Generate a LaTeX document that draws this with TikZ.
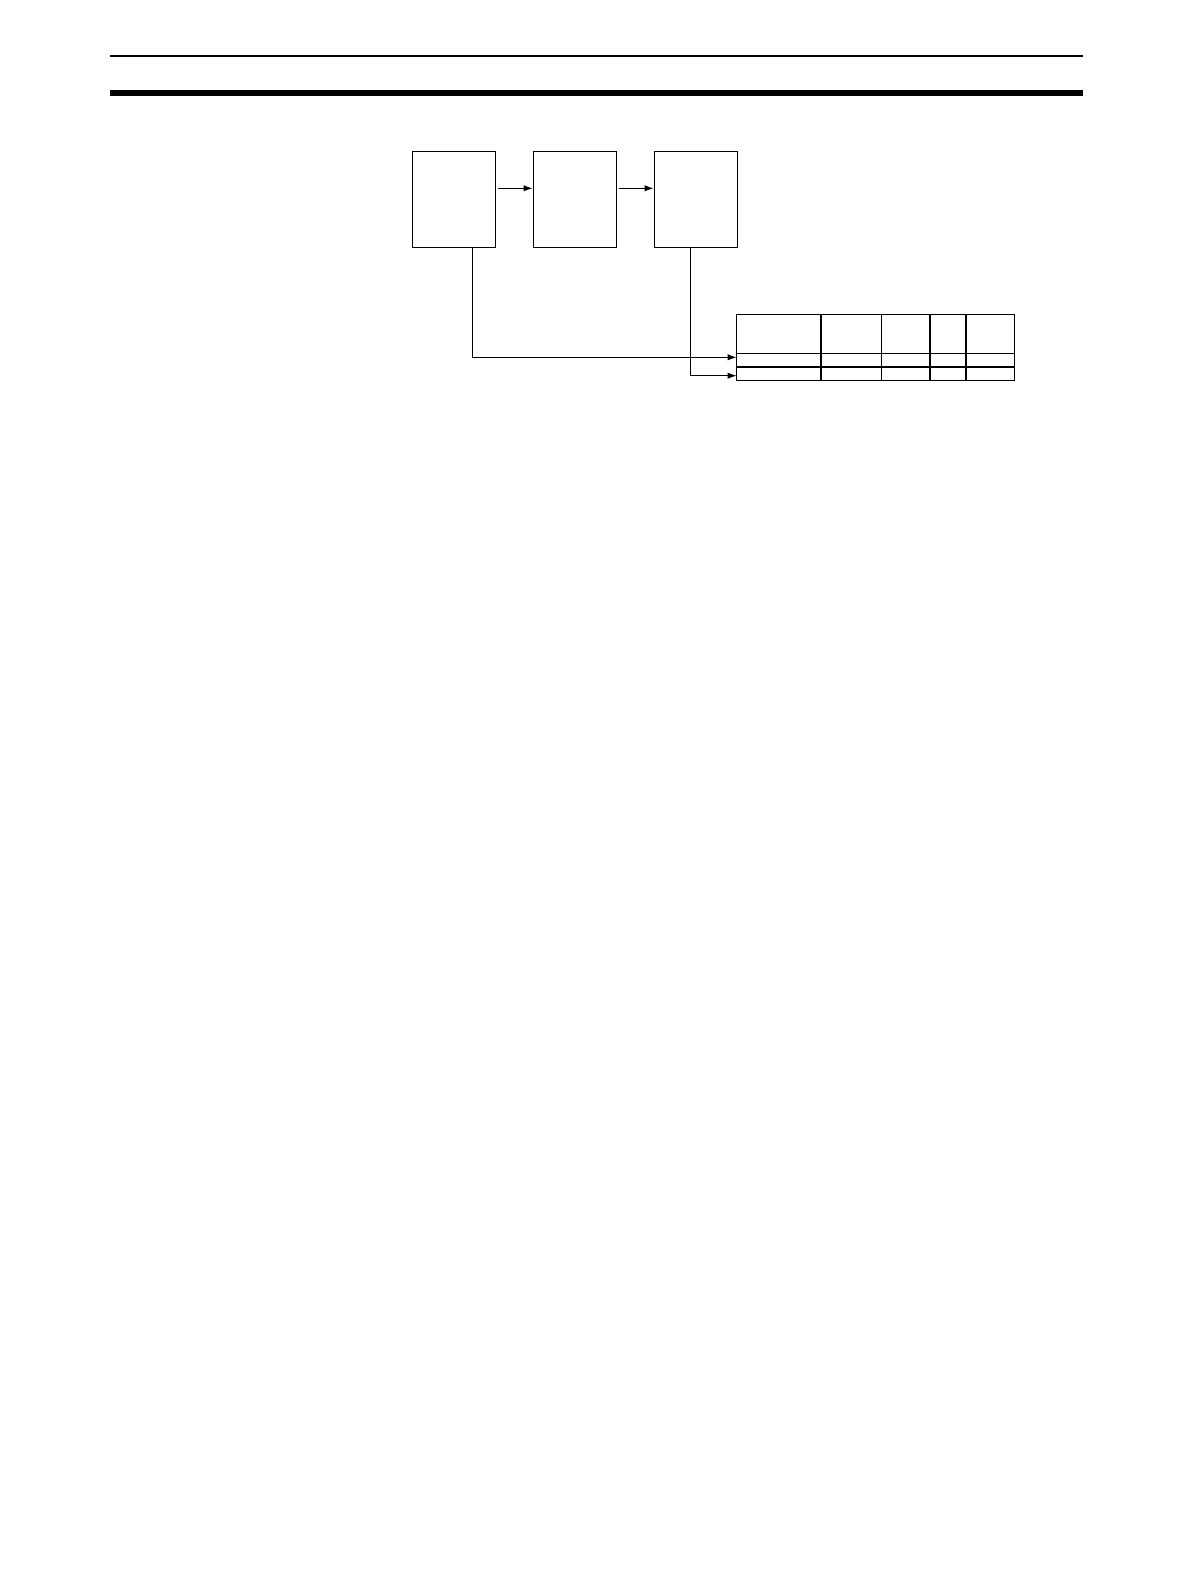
\documentclass[tikz,border=0pt]{standalone}
\usetikzlibrary{arrows.meta}

\begin{document}
\begin{tikzpicture}[x=0.5pt, y=-0.5pt, line width=0.65pt,
    blk/.style={draw, minimum width=41.7pt, minimum height=48pt, inner sep=0pt},
    conn/.style={-{Latex[length=4.5pt,width=3.2pt]}}]
    \useasboundingbox (0,0) rectangle (1190,1586);
    % header rules
    \draw[line width=1pt] (110,55.7) -- (1083,55.7);
    \fill (110,90) rectangle (1083,95.7);
    % blocks
    \node (a) [blk] at (454,199.3) {};
    \node (b) [blk] at (575,199.3) {};
    \node (c) [blk] at (696,199.3) {};
    \draw[conn, shorten <=0.7pt] ([yshift=5.5pt]a.east) -- ([yshift=5.5pt]b.west);
    \draw[conn, shorten <=0.7pt] ([yshift=5.5pt]b.east) -- ([yshift=5.5pt]c.west);
    % table
    \node (tbl) [draw, minimum width=139pt, minimum height=33pt, inner sep=0pt] at (875.7,347.3) {};
    \draw (736.7,353.3) -- (1014.7,353.3);
    \draw[line width=1.1pt] (736.7,366.7) -- (1014.7,366.7);
    \foreach \x/\w in {820.7/1pt, 881.7/0.65pt, 930/1pt, 966.3/1pt}
        \draw[line width=\w] (\x,314.3) -- (\x,380.3);
    \coordinate (r1) at (736.7,357.3);
    \coordinate (r2) at (736.7,375.7);
    \draw[conn] ([xshift=9.15pt]a.south) |- (r1);
    \draw[conn] ([xshift=-2.75pt]c.south) |- (r2);
\end{tikzpicture}
\end{document}
